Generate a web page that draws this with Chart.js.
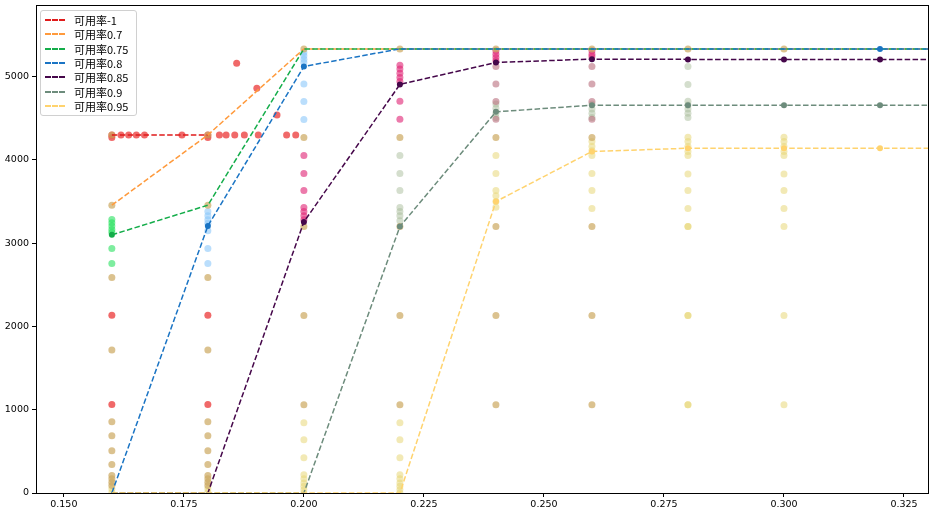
<!DOCTYPE html>
<html>
<head>
<meta charset="utf-8">
<script src="https://cdn.jsdelivr.net/npm/chart.js@4.4.1/dist/chart.umd.min.js"></script>
<style>
  html, body { margin: 0; padding: 0; background: #fff; }
  #wrap { position: relative; width: 941px; height: 518px; }
  #legend {
    position: absolute; left: 40px; top: 10px;
    background: rgba(255,255,255,0.8);
    border: 1px solid #d0d0d0; border-radius: 3px;
    padding: 2px 8px 2px 3px;
    font: 11px "Noto Sans CJK SC", sans-serif; color: #000;
  }
  #legend .row { display: flex; align-items: center; height: 14.3px; }
  #legend .swatch { width: 20px; margin-left: 1px; margin-right: 9px; border-top: 2px dashed; }
</style>
</head>
<body>
<div id="wrap">
  <canvas id="chart" width="941" height="518"></canvas>
  <div id="legend"></div>
</div>
<script>
// axis ticks
const xTicks = [0.150, 0.175, 0.200, 0.225, 0.250, 0.275, 0.300, 0.325];
const yTicks = [0, 1000, 2000, 3000, 4000, 5000];

// line series (x positions shared)
const lineX = [0.16, 0.18, 0.20, 0.22, 0.24, 0.26, 0.28, 0.30, 0.32, 0.34];
const seriesLabels = ['可用率-1', '可用率0.7', '可用率0.75', '可用率0.8', '可用率0.85', '可用率0.9', '可用率0.95'];
const seriesColors = ['#e01b1b', '#ff9a3c', '#14ad4a', '#1a74c4', '#45074a', '#6d8c7c', '#ffd36e'];
const availNeg1 = [4300, 4300, null, null, null, null, null, null, null, null];
const avail070 = [3456, 4300, 5333, 5333, 5333, 5333, 5333, 5333, 5333, 5333];
const avail075 = [3100, 3456, 5333, 5333, 5333, 5333, 5333, 5333, 5333, 5333];
const avail080 = [0, 3207, 5122, 5333, 5333, 5333, 5333, 5333, 5333, 5333];
const avail085 = [0, 0, 3255, 4906, 5170, 5210, 5207, 5207, 5207, 5207];
const avail090 = [0, 0, 0, 3200, 4577, 4657, 4657, 4657, 4657, 4657];
const avail095 = [0, 0, 0, 0, 3500, 4101, 4140, 4140, 4140, 4140];

// scatter clouds, [x, y]
const redPts = [
  [0.16, 4300], [0.16, 4270], [0.16, 2133], [0.16, 1064],
  [0.18, 4300], [0.18, 4270], [0.18, 2133], [0.18, 1064],
  [0.1619, 4300], [0.1635, 4300], [0.1651, 4300], [0.1668, 4300], [0.1746, 4300],
  [0.1824, 4300], [0.1838, 4300], [0.1856, 4300], [0.1876, 4300], [0.1905, 4300],
  [0.1964, 4300], [0.1983, 4300],
  [0.1860, 5160], [0.1902, 4860], [0.1944, 4540]
];
const tanPts = [
  [0.16, 4300], [0.16, 3456], [0.16, 2587], [0.16, 1716], [0.16, 856], [0.16, 688],
  [0.16, 507], [0.16, 342], [0.16, 210], [0.16, 170], [0.16, 130], [0.16, 90],
  [0.18, 4300], [0.18, 3456], [0.18, 2587], [0.18, 1716], [0.18, 856], [0.18, 688],
  [0.18, 507], [0.18, 342], [0.18, 210], [0.18, 170], [0.18, 130], [0.18, 90],
  [0.20, 5333], [0.20, 4270], [0.20, 3200], [0.20, 2130], [0.20, 1060],
  [0.22, 5333], [0.22, 4270], [0.22, 3200], [0.22, 2130], [0.22, 1060],
  [0.24, 5333], [0.24, 4270], [0.24, 3200], [0.24, 2130], [0.24, 1060],
  [0.26, 5333], [0.26, 4270], [0.26, 3200], [0.26, 2130], [0.26, 1060],
  [0.28, 5333], [0.30, 5333]
];
const greenPts = [
  [0.16, 3285], [0.16, 3245], [0.16, 3205], [0.16, 3165], [0.16, 3130], [0.16, 2935], [0.16, 2755]
];
const bluePts = [
  [0.18, 3380], [0.18, 3330], [0.18, 3280], [0.18, 3240], [0.18, 3150], [0.18, 2935], [0.18, 2755],
  [0.20, 5290], [0.20, 5250], [0.20, 5210], [0.20, 5170], [0.20, 4910], [0.20, 4702], [0.20, 4485]
];
const pinkPts = [
  [0.20, 4053], [0.20, 3837], [0.20, 3632], [0.20, 3428], [0.20, 3380], [0.20, 3330], [0.20, 3280],
  [0.22, 5138], [0.22, 5090], [0.22, 5040], [0.22, 4990], [0.22, 4940], [0.22, 4705], [0.22, 4489],
  [0.24, 5310], [0.24, 5270], [0.24, 5230], [0.24, 5190],
  [0.26, 5310], [0.26, 5270], [0.26, 5240]
];
const mauvePts = [
  [0.24, 5122], [0.24, 4910], [0.24, 4702], [0.24, 4489],
  [0.26, 5122], [0.26, 4910], [0.26, 4702], [0.26, 4489]
];
const grayPts = [
  [0.22, 4053], [0.22, 3837], [0.22, 3632], [0.22, 3428], [0.22, 3380], [0.22, 3330], [0.22, 3270],
  [0.24, 4670], [0.24, 4620], [0.24, 4560], [0.24, 4510],
  [0.26, 4670], [0.26, 4610], [0.26, 4560], [0.26, 4510],
  [0.28, 5122], [0.28, 4906], [0.28, 4705], [0.28, 4660], [0.28, 4610], [0.28, 4560], [0.28, 4510]
];
const yellowPts = [
  [0.16, 50], [0.16, 10], [0.18, 50], [0.18, 10],
  [0.20, 843], [0.20, 639], [0.20, 423], [0.20, 220], [0.20, 170], [0.20, 120], [0.20, 80], [0.20, 40], [0.20, 0],
  [0.22, 843], [0.22, 639], [0.22, 423], [0.22, 220], [0.22, 170], [0.22, 120], [0.22, 80], [0.22, 40], [0.22, 0],
  [0.24, 4053], [0.24, 3837], [0.24, 3632], [0.24, 3570], [0.24, 3500], [0.24, 3430],
  [0.26, 4220], [0.26, 4160], [0.26, 4110], [0.26, 4053], [0.26, 3837], [0.26, 3632], [0.26, 3416],
  [0.28, 4273], [0.28, 4220], [0.28, 4160], [0.28, 4100], [0.28, 4053], [0.28, 3830], [0.28, 3632],
  [0.28, 3416], [0.28, 3200], [0.28, 3200], [0.28, 2130], [0.28, 2130], [0.28, 1060], [0.28, 1060],
  [0.30, 4273], [0.30, 4220], [0.30, 4160], [0.30, 4100], [0.30, 4053], [0.30, 3830], [0.30, 3632],
  [0.30, 3416], [0.30, 3200], [0.30, 2130], [0.30, 1060]
];

const lineValues = [availNeg1, avail070, avail075, avail080, avail085, avail090, avail095];

function toXY(pts) {
  return pts.map(p => ({ x: p[0], y: p[1] }));
}

function scatterSet(pts, color) {
  return {
    type: 'scatter',
    data: toXY(pts),
    backgroundColor: color,
    borderWidth: 0,
    pointRadius: 3.5,
    order: 20
  };
}

const lineSets = lineValues.map((vals, i) => ({
  type: 'line',
  label: seriesLabels[i],
  data: lineX.map((x, j) => ({ x: x, y: vals[j] })),
  borderColor: seriesColors[i],
  backgroundColor: seriesColors[i],
  borderWidth: 1.5,
  borderDash: [5.5, 2.4],
  tension: 0,
  fill: false,
  spanGaps: false,
  // markers only where the original shows a darker dot
  pointRadius: ctx => {
    const v = ctx.raw && ctx.raw.y;
    if (i < 2 || !v) return 0;
    if (i === 2 && ctx.raw.x > 0.17) return 0;
    if (v === 5333 && ctx.raw.x < 0.32) return 0;
    return 3;
  },
  pointBorderWidth: 0,
  order: 10 - i
}));

const scatterSets = [
  scatterSet(tanPts, 'rgba(205,170,100,0.72)'),
  scatterSet(redPts, 'rgba(232,25,25,0.65)'),
  scatterSet(greenPts, 'rgba(40,225,95,0.6)'),
  scatterSet(bluePts, 'rgba(140,200,250,0.6)'),
  scatterSet(pinkPts, 'rgba(225,40,120,0.62)'),
  scatterSet(mauvePts, 'rgba(185,110,125,0.6)'),
  scatterSet(grayPts, 'rgba(170,190,155,0.5)'),
  scatterSet(yellowPts, 'rgba(232,215,120,0.55)')
];

// matplotlib-style box around the axes
const frame = {
  id: 'frame',
  afterDatasetsDraw(chart) {
    const a = chart.chartArea;
    const ctx = chart.ctx;
    ctx.save();
    ctx.strokeStyle = '#000';
    ctx.lineWidth = 1;
    ctx.strokeRect(Math.round(a.left) + 0.5, Math.round(a.top) + 0.5,
      Math.round(a.right - a.left), Math.round(a.bottom - a.top));
    ctx.restore();
  }
};

const tickFont = { family: 'DejaVu Sans, sans-serif', size: 9.5 };

new Chart(document.getElementById('chart').getContext('2d'), {
  data: { datasets: [...lineSets, ...scatterSets] },
  options: {
    responsive: false,
    animation: false,
    layout: { padding: { top: 5, right: 13, left: 0, bottom: 0 } },
    plugins: { legend: { display: false }, tooltip: { enabled: false } },
    scales: {
      x: {
        type: 'linear',
        min: 0.1442,
        max: 0.330,
        afterBuildTicks: s => { s.ticks = xTicks.map(v => ({ value: v })); },
        afterFit: s => { s.height = 25; s.paddingLeft = 0; s.paddingRight = 0; },
        ticks: {
          callback: v => v.toFixed(3),
          color: '#000', font: tickFont, maxRotation: 0, autoSkip: false, padding: 2
        },
        grid: { drawOnChartArea: false, tickLength: 4, color: '#000' },
        border: { color: '#000' }
      },
      y: {
        min: 0,
        max: 5860,
        afterBuildTicks: s => { s.ticks = yTicks.map(v => ({ value: v })); },
        afterFit: s => { s.width = 36; s.paddingTop = 0; s.paddingBottom = 0; },
        ticks: { callback: v => String(v), color: '#000', font: tickFont, padding: 3 },
        grid: { drawOnChartArea: false, tickLength: 4, color: '#000' },
        border: { color: '#000' }
      }
    }
  },
  plugins: [frame]
});

// legend box in the upper left corner
const legend = document.getElementById('legend');
seriesLabels.forEach((label, i) => {
  const row = document.createElement('div');
  row.className = 'row';
  const sw = document.createElement('span');
  sw.className = 'swatch';
  sw.style.borderTopColor = seriesColors[i];
  const txt = document.createElement('span');
  txt.textContent = label;
  row.appendChild(sw);
  row.appendChild(txt);
  legend.appendChild(row);
});
</script>
</body>
</html>
